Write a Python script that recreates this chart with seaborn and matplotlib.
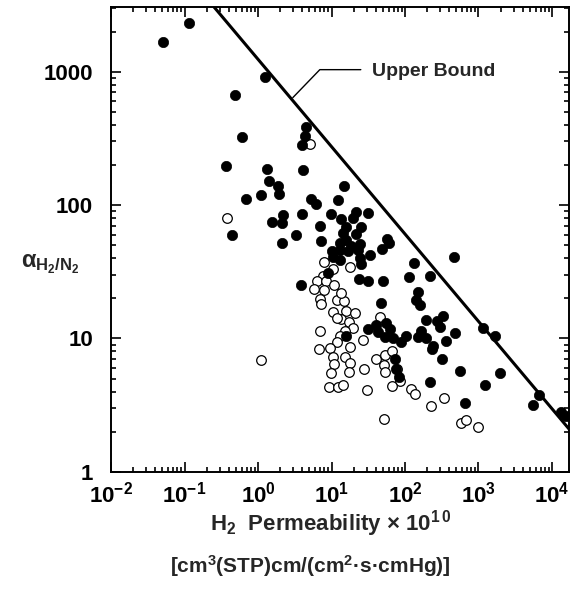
import matplotlib
matplotlib.use("Agg")
import matplotlib.pyplot as plt
import matplotlib.ticker as mticker
import pandas as pd
import seaborn as sns

# H2 permeability (Barrer) and H2/N2 selectivity
filled_p = [0.051, 0.115, 1.24, 0.49, 0.60, 0.365, 1.33, 4.1, 1.42, 1.84, 1.90, 1.10, 0.68,
            4.56, 4.3, 4.0, 15, 5.3, 6.1, 12.4, 2.19, 2.13, 1.53, 3.97, 9.7, 6.9, 0.44, 3.26,
            2.1, 7.3, 13.6, 21.3, 31.5, 19.6, 15.9, 25.5, 14.3, 21.8, 24.2, 15.9, 12.9, 18.6,
            16.8, 12.9, 10, 22.9, 33, 24.5, 25.5, 12.9, 10.5, 56, 60, 48, 470, 134, 115, 216,
            50, 23.8, 31, 3.9, 150, 141, 158, 47, 324, 273, 300, 195, 472, 356, 235, 321,
            1144, 1700, 564, 1960, 1220, 216, 666, 5470, 6740, 13300, 15700, 31.3, 40.7, 55.7,
            61.8, 52.8, 68.5, 89, 104, 150, 166, 195, 43, 239, 72, 76, 84, 15.6, 9.0]
filled_a = [1660, 2320, 920, 670, 322, 195, 187, 182, 151, 138, 122, 120, 112,
            387, 332, 282, 140, 112, 101, 110, 84, 73, 75, 85, 86, 70, 60, 60,
            52, 54, 78, 89, 87, 80, 69, 69, 62, 61, 51.5, 55, 52, 49,
            45, 46, 45, 46, 42, 40, 36, 39, 41, 56, 52, 47, 41, 37, 29, 29.5,
            27, 28, 27, 25, 22.4, 19.3, 17.7, 18.5, 14.7, 13.5, 12.2, 13.8, 11, 9.5, 8.4, 7.0,
            12, 10.5, 5.7, 5.5, 4.45, 4.7, 3.3, 3.16, 3.76, 2.79, 2.62, 11.7, 12.7, 13,
            11.7, 10.3, 10.1, 9.4, 10.35, 10.3, 11.3, 10.1, 11.1, 8.8, 7.0, 5.9, 5.1, 10.5, 31]

open_p = [5.1, 0.38, 7.8, 10.4, 18, 7.6, 6.35, 8.3, 10.7, 5.7, 7.9, 6.9, 7.3, 11.7, 14.6,
          13.6, 10.5, 15.8, 20.7, 45, 13.6, 17.1, 19.6, 15.1, 12.9, 11.7, 9.45, 18, 10.5,
          10.7, 9.7, 15.1, 18, 17.3, 9.2, 12.1, 14.2, 6.9, 6.7, 1.08, 28, 30.7, 26.8, 52,
          40.7, 53, 67, 52, 54, 78, 86, 66, 122, 135, 228, 338, 578, 680, 980, 11.7]
open_a = [285, 80, 37.7, 33.4, 34.3, 29.3, 26.9, 26.9, 25.2, 23.5, 23.2, 19.8, 18, 19.5, 19.1,
          22.1, 15.7, 16.2, 15.4, 14.4, 13.9, 13.2, 12, 11.4, 10.5, 9.4, 8.5, 8.6, 7.2,
          6.4, 5.5, 7.2, 6.6, 5.6, 4.3, 4.3, 4.45, 11.3, 8.4, 6.9, 5.9, 4.1, 9.8, 2.47,
          7.0, 7.5, 8.0, 6.3, 5.6, 5.9, 4.8, 4.4, 4.15, 3.85, 3.1, 3.55, 2.31, 2.45, 2.15, 14.3]

# upper bound line end points
bound_p = [0.2, 20000]
bound_a = [3550, 1.89]

filled = pd.DataFrame({"P": filled_p, "alpha": filled_a})
hollow = pd.DataFrame({"P": open_p, "alpha": open_a})

sns.set_style("ticks")
plt.rcParams["font.family"] = ["Liberation Sans", "DejaVu Sans"]
plt.rcParams["font.weight"] = "bold"
plt.rcParams["axes.unicode_minus"] = False
plt.rcParams["mathtext.fontset"] = "custom"
plt.rcParams["mathtext.rm"] = "Liberation Sans:bold"
plt.rcParams["mathtext.it"] = "Liberation Sans:bold"
plt.rcParams["mathtext.bf"] = "Liberation Sans:bold"

fig = plt.figure(figsize=(5.7, 5.92), dpi=100)
ax = fig.add_axes([0.195, 0.203, 0.803, 0.785])

sns.lineplot(x=bound_p, y=bound_a, color="black", linewidth=2.2, ax=ax)
sns.scatterplot(data=hollow, x="P", y="alpha", s=48, facecolor="white",
                edgecolor="black", linewidth=0.9, ax=ax, zorder=3)
sns.scatterplot(data=filled, x="P", y="alpha", s=55, color="black",
                edgecolor="black", linewidth=0.5, ax=ax, zorder=4)

ax.set_xscale("log")
ax.set_yscale("log")
ax.set_xlim(0.01, 17000)
ax.set_ylim(1, 3050)

ax.xaxis.set_major_locator(mticker.LogLocator(base=10, numticks=10))
ax.xaxis.set_minor_locator(mticker.LogLocator(base=10, subs=range(2, 10), numticks=20))
ax.yaxis.set_major_locator(mticker.FixedLocator([1, 10, 100, 1000]))
ax.yaxis.set_minor_locator(mticker.LogLocator(base=10, subs=range(2, 10), numticks=20))
ax.yaxis.set_major_formatter(mticker.FuncFormatter(lambda v, pos: f"{v:g}"))
ax.xaxis.set_minor_formatter(mticker.NullFormatter())
ax.yaxis.set_minor_formatter(mticker.NullFormatter())

ax.tick_params(which="both", direction="in", top=True, right=True, width=1.2, colors="black")
ax.tick_params(which="major", length=7, labelsize=16)
ax.tick_params(axis="y", which="major", pad=13)
ax.tick_params(axis="x", which="major", pad=7)
ax.tick_params(which="minor", length=3.5)
for lab in ax.get_xticklabels() + ax.get_yticklabels():
    lab.set_fontweight("bold")
for sp in ax.spines.values():
    sp.set_linewidth(1.4)
    sp.set_color("black")

ax.set_xlabel("")
ax.set_ylabel("")

ax.annotate("Upper Bound", xy=(2.97, 639), xytext=(36, 1000), fontsize=14,
            fontweight="bold", ha="left", va="center",
            arrowprops=dict(arrowstyle="-", color="black", lw=1.0, relpos=(0, 0.62),
                            shrinkA=6, shrinkB=0,
                            connectionstyle="angle,angleA=0,angleB=46,rad=0"))

fig.text(0.088, 0.553, r"$\alpha_{\mathrm{H_2/N_2}}$", fontsize=17, ha="center", va="center")
fig.text(0.58, 0.115, r"H$_2$  Permeability × 10$^{1\,0}$", fontsize=16,
         ha="center", va="center", fontweight="bold")
fig.text(0.545, 0.043, r"[cm$^3$(STP)cm/(cm$^2$·s·cmHg)]", fontsize=15,
         ha="center", va="center", fontweight="bold")

fig.savefig("out.png", dpi=100)
